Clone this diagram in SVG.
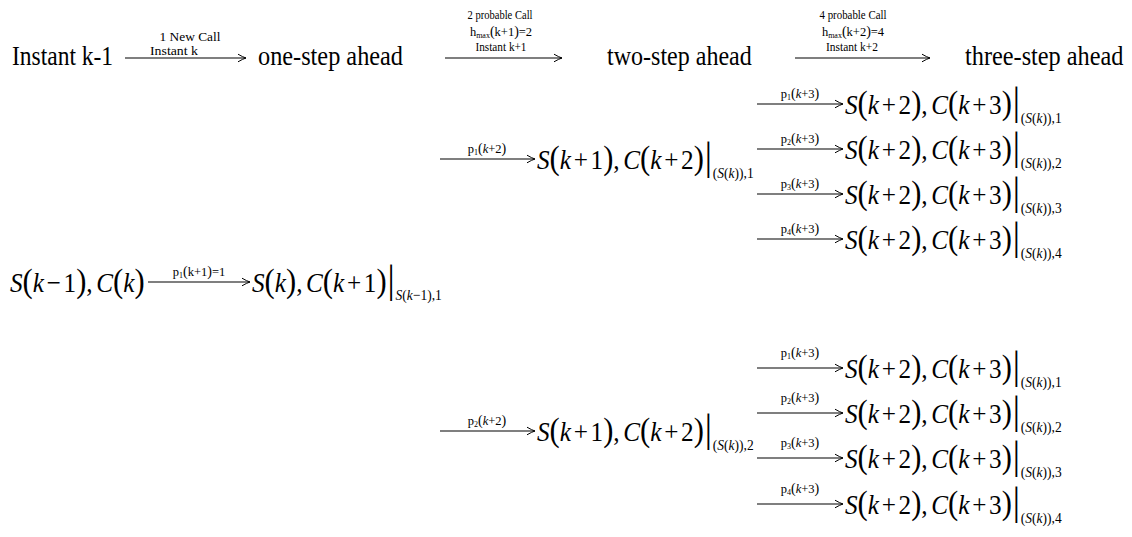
<svg xmlns="http://www.w3.org/2000/svg" width="1132" height="537" viewBox="0 0 1132 537" font-family="'Liberation Serif', 'DejaVu Serif', serif">
  <defs>
    <style>
      text { fill: #000; }
      .big { font-size: 27px; }
      .lab { font-size: 12.5px; }
      .m { font-size: 28px; }
      .i { font-style: italic; }
      .par { font-size: 34px; }
      .bar { font-size: 40px; }
      .sub { font-size: 15px; }
      .ss { font-size: 8px; }
      .lp { font-size: 14px; }
      .edge { stroke: #000; stroke-width: 1.1; fill: none; marker-end: url(#ah); }
    </style>
    <marker id="ah" markerWidth="10" markerHeight="10" refX="9" refY="5" orient="auto" markerUnits="userSpaceOnUse">
      <path d="M1,1.2 Q6,4.1 9,5 Q6,5.9 1,8.8" fill="none" stroke="#000" stroke-width="1"/>
    </marker>
  </defs>
  <rect width="1132" height="537" fill="#fff"/>

  <!-- header: time instants (narrowed serif) -->
  <g id="instant-k-1" transform="translate(12,65) scale(0.87,1)"><text class="big">Instant k-1</text></g>
  <g id="one-step" transform="translate(258,65) scale(0.9,1)"><text class="big">one-step ahead</text></g>
  <g id="two-step" transform="translate(607,65) scale(0.89,1)"><text class="big">two-step ahead</text></g>
  <g id="three-step" transform="translate(965,65) scale(0.9,1)"><text class="big">three-step ahead</text></g>

  <!-- connectors -->
  <g id="connectors">
    <path class="edge" d="M125,58 H246"/>
    <path class="edge" d="M445,58 H562"/>
    <path class="edge" d="M795,58 H930"/>

    <path class="edge" d="M148,282 H250"/>
    <path class="edge" d="M440,159 H535"/>
    <path class="edge" d="M440,431 H535"/>

    <path class="edge" d="M757,104 H843"/>
    <path class="edge" d="M757,149 H843"/>
    <path class="edge" d="M757,194 H843"/>
    <path class="edge" d="M757,239 H843"/>

    <path class="edge" d="M757,368 H843"/>
    <path class="edge" d="M757,413 H843"/>
    <path class="edge" d="M757,458 H843"/>
    <path class="edge" d="M757,504 H843"/>
  </g>

  <!-- connector labels -->
  <g id="edge-labels" text-anchor="middle">
    <text class="lab" x="190" y="41" textLength="61" lengthAdjust="spacingAndGlyphs">1 New Call</text>
    <text class="lab" x="174" y="55" textLength="48" lengthAdjust="spacingAndGlyphs">Instant k</text>

    <text class="lab" x="500" y="19" textLength="65" lengthAdjust="spacingAndGlyphs">2 probable Call</text>
    <text class="lab" x="501" y="36">h<tspan class="ss" dy="2">max</tspan><tspan class="lp" dy="-2">(</tspan>k+1<tspan class="lp">)</tspan>=2</text>
    <text class="lab" x="501" y="51" textLength="51" lengthAdjust="spacingAndGlyphs">Instant k+1</text>

    <text class="lab" x="853" y="19" textLength="67" lengthAdjust="spacingAndGlyphs">4 probable Call</text>
    <text class="lab" x="853" y="36">h<tspan class="ss" dy="2">max</tspan><tspan class="lp" dy="-2">(</tspan>k+2<tspan class="lp">)</tspan>=4</text>
    <text class="lab" x="852" y="51" textLength="52" lengthAdjust="spacingAndGlyphs">Instant k+2</text>

    <text class="lab" x="199" y="276">p<tspan class="ss" dy="2">1</tspan><tspan class="lp" dy="-2">(</tspan>k+1<tspan class="lp">)</tspan>=1</text>
    <text class="lab" x="487" y="153">p<tspan class="ss" dy="2">1</tspan><tspan class="lp" dy="-2">(</tspan><tspan class="i">k</tspan>+2<tspan class="lp">)</tspan></text>
    <text class="lab" x="487" y="425">p<tspan class="ss" dy="2">2</tspan><tspan class="lp" dy="-2">(</tspan><tspan class="i">k</tspan>+2<tspan class="lp">)</tspan></text>

    <text class="lab" x="800" y="98">p<tspan class="ss" dy="2">1</tspan><tspan class="lp" dy="-2">(</tspan><tspan class="i">k</tspan>+3<tspan class="lp">)</tspan></text>
    <text class="lab" x="800" y="143">p<tspan class="ss" dy="2">2</tspan><tspan class="lp" dy="-2">(</tspan><tspan class="i">k</tspan>+3<tspan class="lp">)</tspan></text>
    <text class="lab" x="800" y="188">p<tspan class="ss" dy="2">3</tspan><tspan class="lp" dy="-2">(</tspan><tspan class="i">k</tspan>+3<tspan class="lp">)</tspan></text>
    <text class="lab" x="800" y="233">p<tspan class="ss" dy="2">4</tspan><tspan class="lp" dy="-2">(</tspan><tspan class="i">k</tspan>+3<tspan class="lp">)</tspan></text>

    <text class="lab" x="800" y="357">p<tspan class="ss" dy="2">1</tspan><tspan class="lp" dy="-2">(</tspan><tspan class="i">k</tspan>+3<tspan class="lp">)</tspan></text>
    <text class="lab" x="800" y="402">p<tspan class="ss" dy="2">2</tspan><tspan class="lp" dy="-2">(</tspan><tspan class="i">k</tspan>+3<tspan class="lp">)</tspan></text>
    <text class="lab" x="800" y="447">p<tspan class="ss" dy="2">3</tspan><tspan class="lp" dy="-2">(</tspan><tspan class="i">k</tspan>+3<tspan class="lp">)</tspan></text>
    <text class="lab" x="800" y="493">p<tspan class="ss" dy="2">4</tspan><tspan class="lp" dy="-2">(</tspan><tspan class="i">k</tspan>+3<tspan class="lp">)</tspan></text>
  </g>

  <!-- state nodes: S(.), C(.) pairs -->
  <g id="state-k-1" transform="translate(10,292) scale(0.9,1)">
    <text class="m"><tspan class="i">S</tspan><tspan class="par">(</tspan><tspan class="i">k</tspan><tspan dx="3">−</tspan><tspan dx="3">1</tspan><tspan class="par">)</tspan>,<tspan class="i" dx="4">C</tspan><tspan class="par">(</tspan><tspan class="i">k</tspan><tspan class="par">)</tspan></text>
  </g>
  <g id="state-k" transform="translate(252,292) scale(0.9,1)">
    <text class="m"><tspan class="i">S</tspan><tspan class="par">(</tspan><tspan class="i">k</tspan><tspan class="par">)</tspan>,<tspan class="i" dx="4">C</tspan><tspan class="par">(</tspan><tspan class="i">k</tspan><tspan dx="3">+</tspan><tspan dx="3">1</tspan><tspan class="par">)</tspan><tspan class="bar" dx="1">|</tspan><tspan class="sub" dx="1" dy="8"><tspan class="i">S</tspan>(<tspan class="i">k</tspan>−1),1</tspan></text>
  </g>

  <g id="state-k1-a" transform="translate(537,169) scale(0.9,1)">
    <text class="m"><tspan class="i">S</tspan><tspan class="par">(</tspan><tspan class="i">k</tspan><tspan dx="3">+</tspan><tspan dx="3">1</tspan><tspan class="par">)</tspan>,<tspan class="i" dx="4">C</tspan><tspan class="par">(</tspan><tspan class="i">k</tspan><tspan dx="3">+</tspan><tspan dx="3">2</tspan><tspan class="par">)</tspan><tspan class="bar" dx="1">|</tspan><tspan class="sub" dx="1" dy="9">(<tspan class="i">S</tspan>(<tspan class="i">k</tspan>)),1</tspan></text>
  </g>
  <g id="state-k1-b" transform="translate(537,441) scale(0.9,1)">
    <text class="m"><tspan class="i">S</tspan><tspan class="par">(</tspan><tspan class="i">k</tspan><tspan dx="3">+</tspan><tspan dx="3">1</tspan><tspan class="par">)</tspan>,<tspan class="i" dx="4">C</tspan><tspan class="par">(</tspan><tspan class="i">k</tspan><tspan dx="3">+</tspan><tspan dx="3">2</tspan><tspan class="par">)</tspan><tspan class="bar" dx="1">|</tspan><tspan class="sub" dx="1" dy="9">(<tspan class="i">S</tspan>(<tspan class="i">k</tspan>)),2</tspan></text>
  </g>

  <g id="state-k2-a1" transform="translate(845,114) scale(0.9,1)">
    <text class="m"><tspan class="i">S</tspan><tspan class="par">(</tspan><tspan class="i">k</tspan><tspan dx="3">+</tspan><tspan dx="3">2</tspan><tspan class="par">)</tspan>,<tspan class="i" dx="4">C</tspan><tspan class="par">(</tspan><tspan class="i">k</tspan><tspan dx="3">+</tspan><tspan dx="3">3</tspan><tspan class="par">)</tspan><tspan class="bar" dx="1">|</tspan><tspan class="sub" dx="1" dy="9">(<tspan class="i">S</tspan>(<tspan class="i">k</tspan>)),1</tspan></text>
  </g>
  <g id="state-k2-a2" transform="translate(845,159) scale(0.9,1)">
    <text class="m"><tspan class="i">S</tspan><tspan class="par">(</tspan><tspan class="i">k</tspan><tspan dx="3">+</tspan><tspan dx="3">2</tspan><tspan class="par">)</tspan>,<tspan class="i" dx="4">C</tspan><tspan class="par">(</tspan><tspan class="i">k</tspan><tspan dx="3">+</tspan><tspan dx="3">3</tspan><tspan class="par">)</tspan><tspan class="bar" dx="1">|</tspan><tspan class="sub" dx="1" dy="9">(<tspan class="i">S</tspan>(<tspan class="i">k</tspan>)),2</tspan></text>
  </g>
  <g id="state-k2-a3" transform="translate(845,204) scale(0.9,1)">
    <text class="m"><tspan class="i">S</tspan><tspan class="par">(</tspan><tspan class="i">k</tspan><tspan dx="3">+</tspan><tspan dx="3">2</tspan><tspan class="par">)</tspan>,<tspan class="i" dx="4">C</tspan><tspan class="par">(</tspan><tspan class="i">k</tspan><tspan dx="3">+</tspan><tspan dx="3">3</tspan><tspan class="par">)</tspan><tspan class="bar" dx="1">|</tspan><tspan class="sub" dx="1" dy="9">(<tspan class="i">S</tspan>(<tspan class="i">k</tspan>)),3</tspan></text>
  </g>
  <g id="state-k2-a4" transform="translate(845,249) scale(0.9,1)">
    <text class="m"><tspan class="i">S</tspan><tspan class="par">(</tspan><tspan class="i">k</tspan><tspan dx="3">+</tspan><tspan dx="3">2</tspan><tspan class="par">)</tspan>,<tspan class="i" dx="4">C</tspan><tspan class="par">(</tspan><tspan class="i">k</tspan><tspan dx="3">+</tspan><tspan dx="3">3</tspan><tspan class="par">)</tspan><tspan class="bar" dx="1">|</tspan><tspan class="sub" dx="1" dy="9">(<tspan class="i">S</tspan>(<tspan class="i">k</tspan>)),4</tspan></text>
  </g>

  <g id="state-k2-b1" transform="translate(845,378) scale(0.9,1)">
    <text class="m"><tspan class="i">S</tspan><tspan class="par">(</tspan><tspan class="i">k</tspan><tspan dx="3">+</tspan><tspan dx="3">2</tspan><tspan class="par">)</tspan>,<tspan class="i" dx="4">C</tspan><tspan class="par">(</tspan><tspan class="i">k</tspan><tspan dx="3">+</tspan><tspan dx="3">3</tspan><tspan class="par">)</tspan><tspan class="bar" dx="1">|</tspan><tspan class="sub" dx="1" dy="9">(<tspan class="i">S</tspan>(<tspan class="i">k</tspan>)),1</tspan></text>
  </g>
  <g id="state-k2-b2" transform="translate(845,423) scale(0.9,1)">
    <text class="m"><tspan class="i">S</tspan><tspan class="par">(</tspan><tspan class="i">k</tspan><tspan dx="3">+</tspan><tspan dx="3">2</tspan><tspan class="par">)</tspan>,<tspan class="i" dx="4">C</tspan><tspan class="par">(</tspan><tspan class="i">k</tspan><tspan dx="3">+</tspan><tspan dx="3">3</tspan><tspan class="par">)</tspan><tspan class="bar" dx="1">|</tspan><tspan class="sub" dx="1" dy="9">(<tspan class="i">S</tspan>(<tspan class="i">k</tspan>)),2</tspan></text>
  </g>
  <g id="state-k2-b3" transform="translate(845,468) scale(0.9,1)">
    <text class="m"><tspan class="i">S</tspan><tspan class="par">(</tspan><tspan class="i">k</tspan><tspan dx="3">+</tspan><tspan dx="3">2</tspan><tspan class="par">)</tspan>,<tspan class="i" dx="4">C</tspan><tspan class="par">(</tspan><tspan class="i">k</tspan><tspan dx="3">+</tspan><tspan dx="3">3</tspan><tspan class="par">)</tspan><tspan class="bar" dx="1">|</tspan><tspan class="sub" dx="1" dy="9">(<tspan class="i">S</tspan>(<tspan class="i">k</tspan>)),3</tspan></text>
  </g>
  <g id="state-k2-b4" transform="translate(845,514) scale(0.9,1)">
    <text class="m"><tspan class="i">S</tspan><tspan class="par">(</tspan><tspan class="i">k</tspan><tspan dx="3">+</tspan><tspan dx="3">2</tspan><tspan class="par">)</tspan>,<tspan class="i" dx="4">C</tspan><tspan class="par">(</tspan><tspan class="i">k</tspan><tspan dx="3">+</tspan><tspan dx="3">3</tspan><tspan class="par">)</tspan><tspan class="bar" dx="1">|</tspan><tspan class="sub" dx="1" dy="9">(<tspan class="i">S</tspan>(<tspan class="i">k</tspan>)),4</tspan></text>
  </g>
</svg>
